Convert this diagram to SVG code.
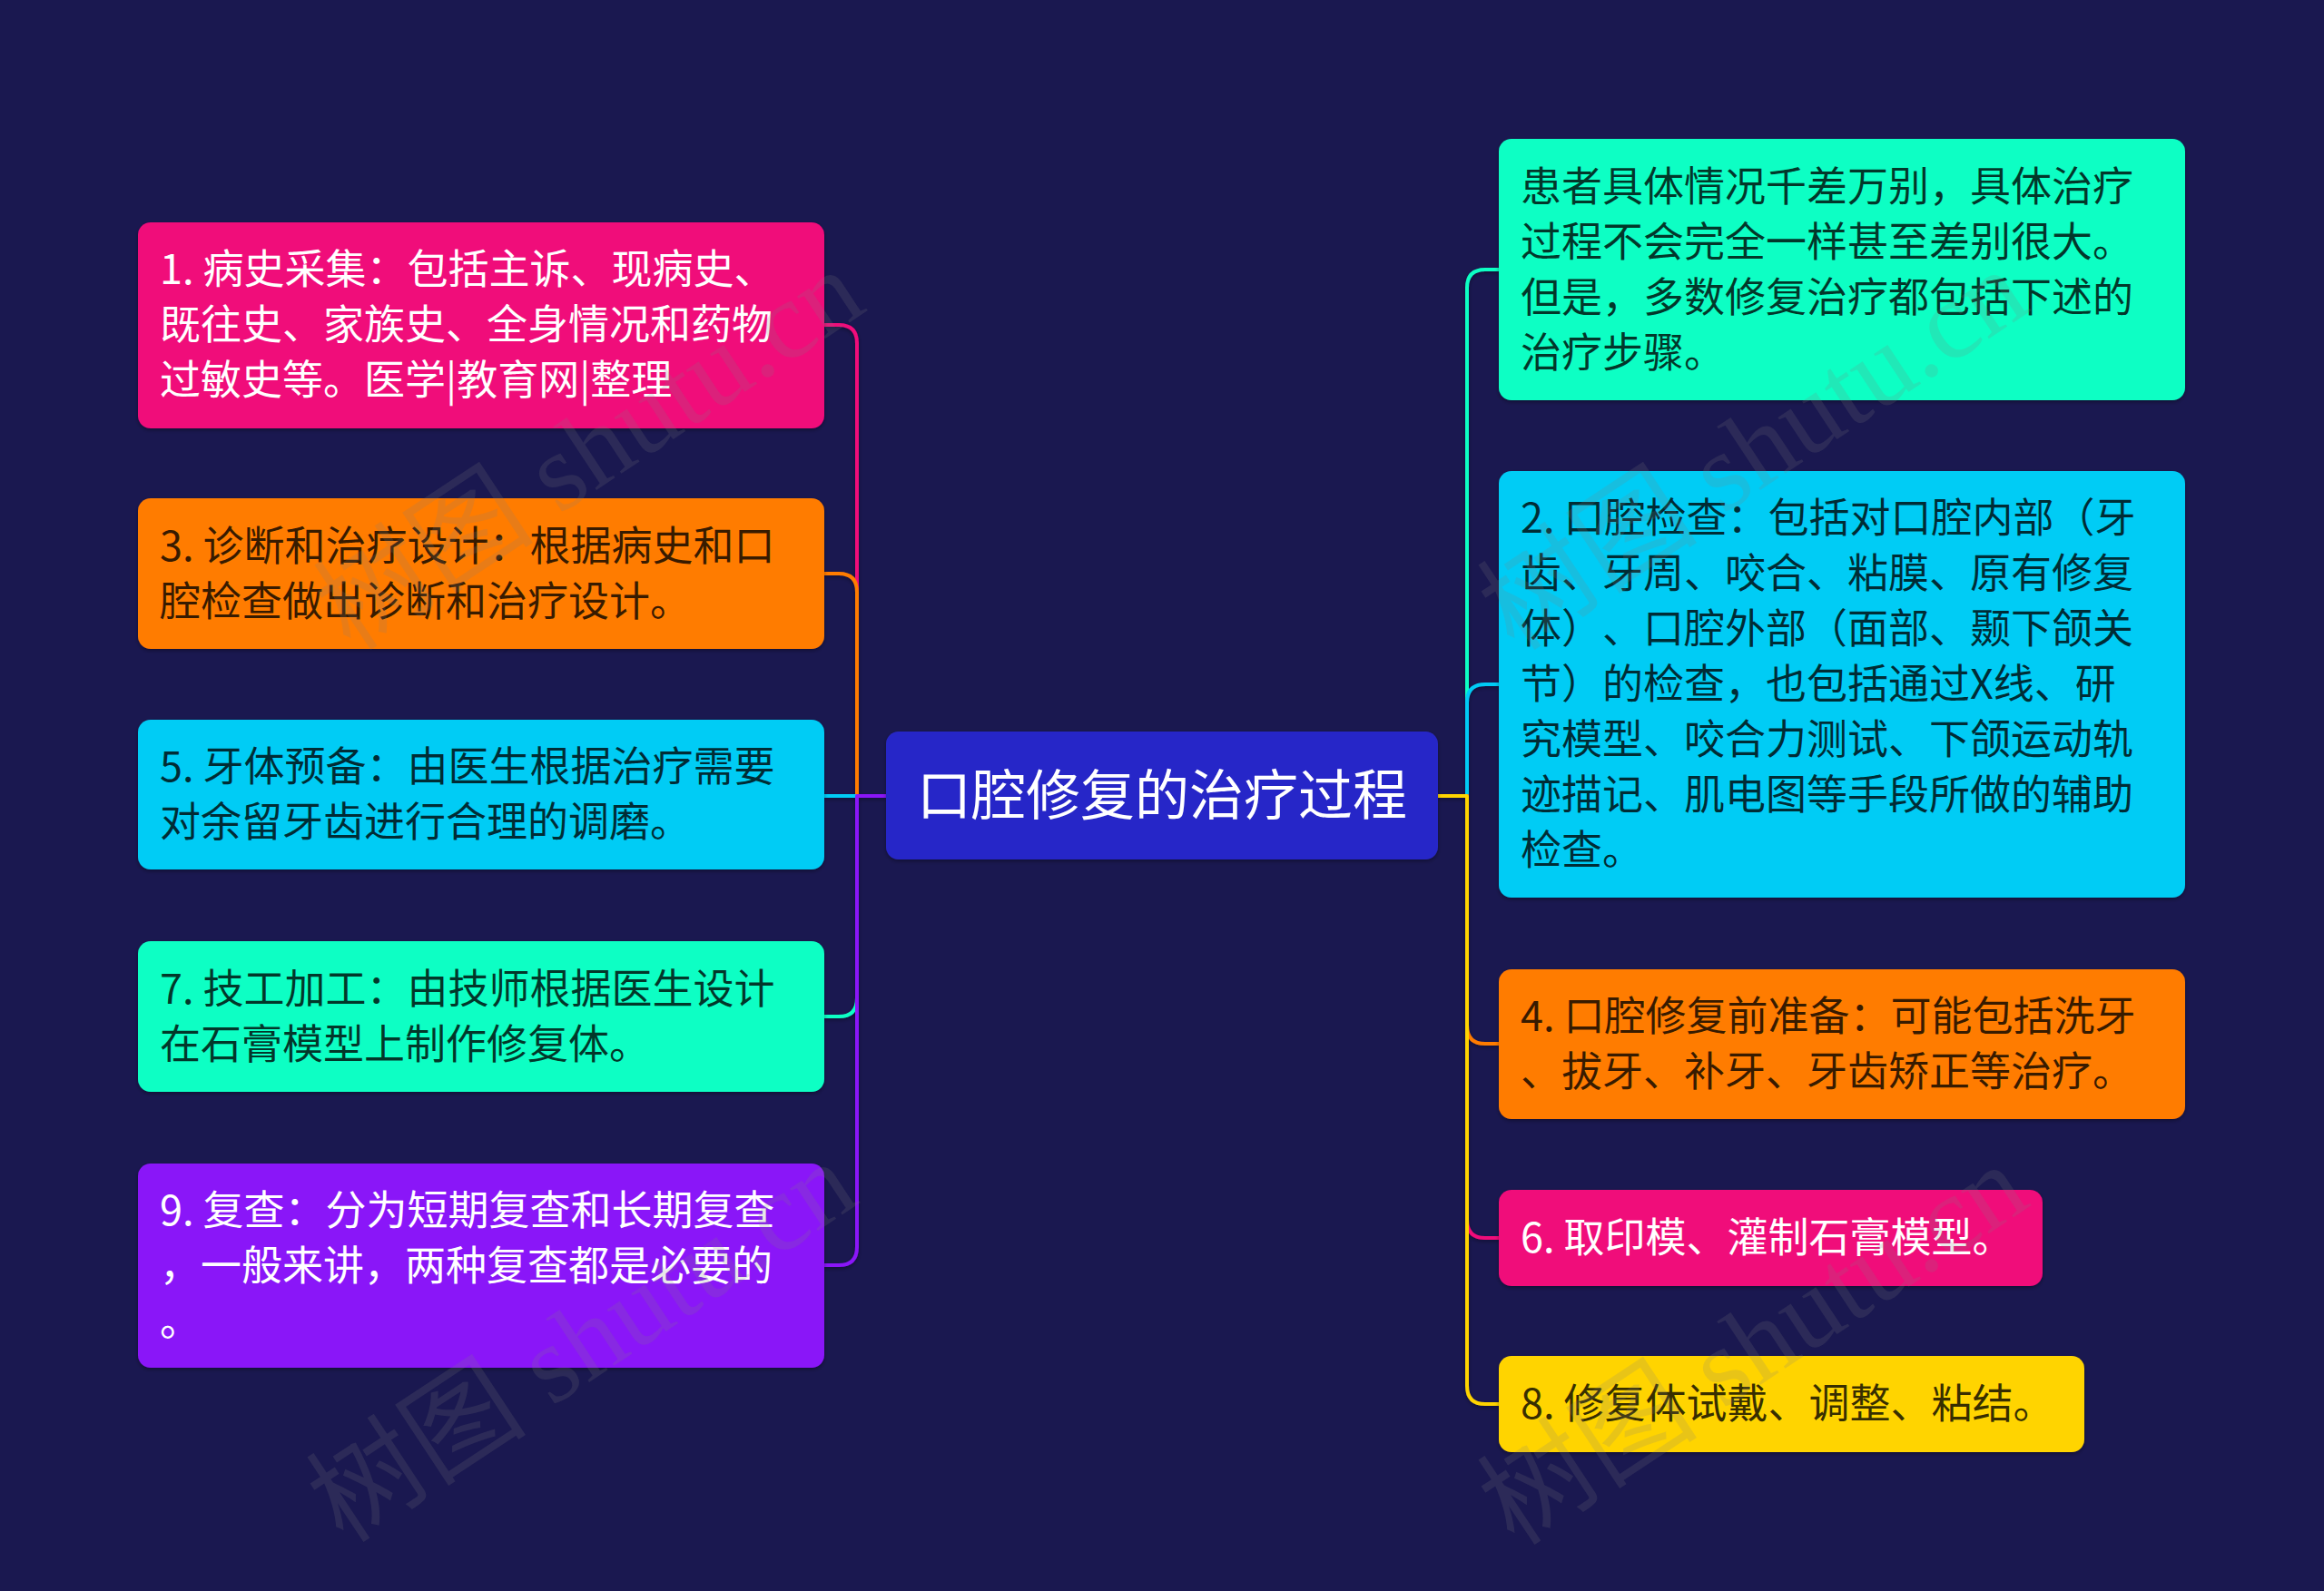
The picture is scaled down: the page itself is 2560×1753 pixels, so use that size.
<svg xmlns="http://www.w3.org/2000/svg" width="2560" height="1753" viewBox="0 0 2560 1753">
<defs>
<style>
.t{font-family:"Noto Sans CJK SC","Noto Sans",sans-serif;font-size:45px;text-spacing-trim:space-all;font-feature-settings:"halt" 0,"chws" 0}
.w{fill:#ffffff}
.d{fill:#000000;fill-opacity:0.78}
.title{font-family:"Noto Sans CJK SC","Noto Sans",sans-serif;font-size:60px;fill:#ffffff}
.c{fill:none;stroke-width:4;stroke-linejoin:round}
.wm{font-family:"Liberation Serif","Noto Sans CJK SC",serif;font-size:122px;fill:#808080;fill-opacity:0.18}
</style>
<filter id="sh" x="-5%" y="-10%" width="110%" height="130%">
<feDropShadow dx="0" dy="2" stdDeviation="2" flood-color="#000" flood-opacity="0.35"/>
</filter>
</defs>
<rect width="2560" height="1753" fill="#1a1850"/>
<g id="connectors" filter="url(#sh)">
<path class="c" stroke="#f0087a" d="M976,877 H944 V378 Q944,358 924,358 H908"/>
<path class="c" stroke="#ff7b00" d="M976,877 H944 V652 Q944,632 924,632 H908"/>
<path class="c" stroke="#00ccf5" d="M976,877 H908"/>
<path class="c" stroke="#0cffc4" d="M976,877 H944 V1100 Q944,1120 924,1120 H908"/>
<path class="c" stroke="#8a14f8" d="M976,877 H944 V1374 Q944,1394 924,1394 H908"/>
<path class="c" stroke="#0cffc4" d="M1584,877 H1616 V317 Q1616,297 1636,297 H1651"/>
<path class="c" stroke="#00ccf5" d="M1584,877 H1616 V774 Q1616,754 1636,754 H1651"/>
<path class="c" stroke="#ff7b00" d="M1584,877 H1616 V1130 Q1616,1150 1636,1150 H1651"/>
<path class="c" stroke="#f0087a" d="M1584,877 H1616 V1344 Q1616,1364 1636,1364 H1651"/>
<path class="c" stroke="#ffd400" d="M1584,877 H1616 V1527 Q1616,1547 1636,1547 H1651"/>
</g>
<g id="center">
<rect x="976" y="806" width="608" height="141" rx="14" fill="#2828c8" filter="url(#sh)"/>
<text class="title" x="1280" y="898" text-anchor="middle">口腔修复的治疗过程</text>
</g>
<g id="n1">
<rect x="152" y="245" width="756" height="227" rx="14" fill="#f0087a" filter="url(#sh)"/>
<text class="t w" x="176" y="313">1. 病史采集：包括主诉、现病史、</text>
<text class="t w" x="176" y="374">既往史、家族史、全身情况和药物</text>
<text class="t w" x="176" y="435">过敏史等。医学|教育网|整理</text>
</g>
<g id="n3">
<rect x="152" y="549" width="756" height="166" rx="14" fill="#ff7b00" filter="url(#sh)"/>
<text class="t d" x="176" y="618">3. 诊断和治疗设计：根据病史和口</text>
<text class="t d" x="176" y="679">腔检查做出诊断和治疗设计。</text>
</g>
<g id="n5">
<rect x="152" y="793" width="756" height="165" rx="14" fill="#00ccf5" filter="url(#sh)"/>
<text class="t d" x="176" y="861">5. 牙体预备：由医生根据治疗需要</text>
<text class="t d" x="176" y="922">对余留牙齿进行合理的调磨。</text>
</g>
<g id="n7">
<rect x="152" y="1037" width="756" height="166" rx="14" fill="#0cffc4" filter="url(#sh)"/>
<text class="t d" x="176" y="1106">7. 技工加工：由技师根据医生设计</text>
<text class="t d" x="176" y="1167">在石膏模型上制作修复体。</text>
</g>
<g id="n9">
<rect x="152" y="1282" width="756" height="225" rx="14" fill="#8a14f8" filter="url(#sh)"/>
<text class="t w" x="176" y="1350">9. 复查：分为短期复查和长期复查</text>
<text class="t w" x="176" y="1411">，一般来讲，两种复查都是必要的</text>
<text class="t w" x="176" y="1472">。</text>
</g>
<g id="r1">
<rect x="1651" y="153" width="756" height="288" rx="14" fill="#0cffc4" filter="url(#sh)"/>
<text class="t d" x="1675" y="222">患者具体情况千差万别，具体治疗</text>
<text class="t d" x="1675" y="283">过程不会完全一样甚至差别很大。</text>
<text class="t d" x="1675" y="344">但是，多数修复治疗都包括下述的</text>
<text class="t d" x="1675" y="405">治疗步骤。</text>
</g>
<g id="r2">
<rect x="1651" y="519" width="756" height="470" rx="14" fill="#00ccf5" filter="url(#sh)"/>
<text class="t d" x="1675" y="587">2. 口腔检查：包括对口腔内部（牙</text>
<text class="t d" x="1675" y="648">齿、牙周、咬合、粘膜、原有修复</text>
<text class="t d" x="1675" y="709">体）、口腔外部（面部、颞下颌关</text>
<text class="t d" x="1675" y="770">节）的检查，也包括通过X线、研</text>
<text class="t d" x="1675" y="831">究模型、咬合力测试、下颌运动轨</text>
<text class="t d" x="1675" y="892">迹描记、肌电图等手段所做的辅助</text>
<text class="t d" x="1675" y="953">检查。</text>
</g>
<g id="r3">
<rect x="1651" y="1068" width="756" height="165" rx="14" fill="#ff7b00" filter="url(#sh)"/>
<text class="t d" x="1675" y="1136">4. 口腔修复前准备：可能包括洗牙</text>
<text class="t d" x="1675" y="1197">、拔牙、补牙、牙齿矫正等治疗。</text>
</g>
<g id="r4">
<rect x="1651" y="1311" width="599" height="106" rx="14" fill="#f0087a" filter="url(#sh)"/>
<text class="t w" x="1675" y="1380">6. 取印模、灌制石膏模型。</text>
</g>
<g id="r5">
<rect x="1651" y="1494" width="645" height="106" rx="14" fill="#ffd400" filter="url(#sh)"/>
<text class="t d" x="1675" y="1563">8. 修复体试戴、调整、粘结。</text>
</g>
<g id="watermarks">
<text class="wm" x="672" y="530" text-anchor="middle" transform="rotate(-33.5 672 530)">树图 shutu.cn</text>
<text class="wm" x="1954" y="530" text-anchor="middle" transform="rotate(-33.5 1954 530)">树图 shutu.cn</text>
<text class="wm" x="664" y="1513" text-anchor="middle" transform="rotate(-33.5 664 1513)">树图 shutu.cn</text>
<text class="wm" x="1954" y="1516" text-anchor="middle" transform="rotate(-33.5 1954 1516)">树图 shutu.cn</text>
</g>
</svg>
